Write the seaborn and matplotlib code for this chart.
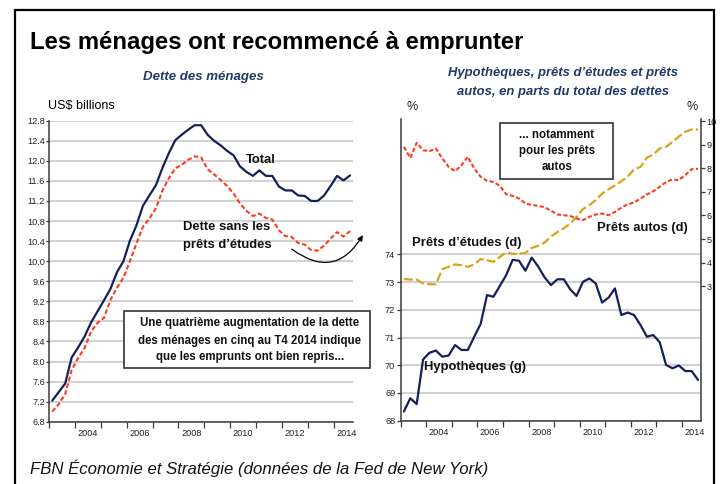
import matplotlib
matplotlib.use("Agg")
import matplotlib.pyplot as plt
import seaborn as sns
import pandas as pd
import numpy as np
from matplotlib.patches import Rectangle
from matplotlib.lines import Line2D

# ---------------- data (quarterly, 2003 T1 onward) ----------------
total = [7.22, 7.39, 7.56, 8.08, 8.28, 8.50, 8.78, 9.00, 9.22, 9.45,
         9.78, 10.00, 10.41, 10.71, 11.10, 11.31, 11.51, 11.85, 12.15, 12.41,
         12.52, 12.62, 12.71, 12.71, 12.52, 12.40, 12.31, 12.20, 12.11, 11.89,
         11.78, 11.70, 11.81, 11.70, 11.70, 11.49, 11.41, 11.41, 11.31, 11.30,
         11.20, 11.20, 11.31, 11.50, 11.70, 11.61, 11.71]
sans_etudes = [7.00, 7.15, 7.35, 7.83, 8.07, 8.27, 8.60, 8.77, 8.87, 9.23,
               9.47, 9.67, 10.00, 10.35, 10.68, 10.85, 11.05, 11.40, 11.65, 11.85,
               11.92, 12.02, 12.09, 12.07, 11.83, 11.73, 11.62, 11.50, 11.35, 11.15,
               11.00, 10.90, 10.95, 10.86, 10.83, 10.62, 10.50, 10.48, 10.36, 10.33,
               10.22, 10.21, 10.31, 10.45, 10.58, 10.49, 10.60]
hypotheques = [68.33, 68.81, 68.60, 70.21, 70.45, 70.53, 70.31, 70.35, 70.73, 70.55,
               70.55, 71.03, 71.49, 72.53, 72.47, 72.86, 73.25, 73.80, 73.77, 73.41,
               73.88, 73.56, 73.17, 72.89, 73.10, 73.10, 72.74, 72.50, 73.01, 73.13,
               72.95, 72.26, 72.44, 72.77, 71.81, 71.90, 71.81, 71.45, 71.03, 71.09,
               70.83, 70.01, 69.89, 69.99, 69.79, 69.79, 69.47]
etudes = [3.30, 3.28, 3.28, 3.11, 3.08, 3.08, 3.72, 3.82, 3.92, 3.89,
          3.82, 3.92, 4.15, 4.10, 4.03, 4.24, 4.43, 4.37, 4.37, 4.41,
          4.62, 4.71, 4.85, 5.10, 5.30, 5.45, 5.66, 5.94, 6.27, 6.44,
          6.65, 6.93, 7.11, 7.28, 7.45, 7.64, 7.96, 8.06, 8.45, 8.59,
          8.84, 8.91, 9.12, 9.35, 9.55, 9.65, 9.65]
autos = [8.91, 8.44, 9.08, 8.77, 8.73, 8.84, 8.42, 8.06, 7.88, 8.13,
         8.49, 7.99, 7.64, 7.47, 7.42, 7.26, 6.90, 6.83, 6.72, 6.51,
         6.44, 6.41, 6.35, 6.20, 6.04, 6.01, 5.98, 5.87, 5.80, 5.94,
         6.04, 6.08, 6.01, 6.15, 6.33, 6.47, 6.55, 6.72, 6.89, 7.03,
         7.21, 7.42, 7.53, 7.50, 7.71, 7.96, 7.98]

left_yticks = [6.8, 7.2, 7.6, 8.0, 8.4, 8.8, 9.2, 9.6, 10.0, 10.4, 10.8,
               11.2, 11.6, 12.0, 12.4, 12.8]
mort_ticks = [68, 69, 70, 71, 72, 73, 74]
share_ticks = [3, 4, 5, 6, 7, 8, 9, 10]
year_labels = ["2004", "2006", "2008", "2010", "2012", "2014"]

# ---------------- style ----------------
sns.set_theme(style="white")
plt.rcParams['font.family'] = ['Liberation Sans', 'DejaVu Sans']
NARROW = ['Liberation Sans Narrow', 'Liberation Sans', 'DejaVu Sans']
REG = ['Liberation Sans', 'DejaVu Sans']

NAVY = '#15205A'
RED = '#FF3A1E'
GOLD = '#D8A417'
SUB = '#1F3A66'
GRID = '#D2D2D2'
SPINE = '#3A3A3A'
TICKC = '#222222'
TICKFS = 6.6

W, H = 726, 484
fig = plt.figure(figsize=(7.26, 4.84), dpi=100)
fig.patch.set_facecolor('white')


def fy(py):
    return 1 - py / H


def fx(px):
    return px / W


n = len(total)
xq = 2003.125 + 0.25 * np.arange(n)
df_left = pd.DataFrame({'x': xq, 'total': total, 'sans': sans_etudes})
df_right = pd.DataFrame({'x': xq, 'hyp': hypotheques, 'etu': etudes, 'auto': autos})


def style_xaxis(ax):
    ax.set_xlim(2003, 2014.74)
    ax.set_xticks(list(range(2003, 2015)))
    ax.set_xticklabels([])
    ax.set_xticks([int(y) + 0.5 for y in year_labels], minor=True)
    ax.set_xticklabels(year_labels, minor=True, family=NARROW, fontsize=TICKFS, color=TICKC)
    ax.tick_params(axis='x', which='major', length=4, width=0.9, direction='out',
                   color=SPINE, bottom=True)
    ax.tick_params(axis='x', which='minor', length=0, pad=5, bottom=True)


# ---------------- left chart ----------------
ax1 = fig.add_axes([fx(49), fy(421.7), fx(304), 301 / H])
sns.lineplot(data=df_left, x='x', y='total', ax=ax1, color=NAVY, lw=1.6)
sns.lineplot(data=df_left, x='x', y='sans', ax=ax1, color=RED, lw=1.5,
             linestyle=(0, (2.2, 1.2)))
ax1.set_ylim(6.8, 12.8)
ax1.set_yticks(left_yticks)
ax1.set_yticklabels([f"{v:.1f}" for v in left_yticks], family=NARROW, fontsize=TICKFS,
                    color=TICKC)
ax1.tick_params(axis='y', length=2, width=0.9, pad=1, color=SPINE, left=True)
style_xaxis(ax1)
ax1.yaxis.grid(True, color=GRID, lw=1.5)
ax1.xaxis.grid(False)
ax1.set_axisbelow(True)
ax1.set_xlabel('')
ax1.set_ylabel('')
for s in ['top', 'right']:
    ax1.spines[s].set_visible(False)
for s in ['left', 'bottom']:
    ax1.spines[s].set_color(SPINE)
    ax1.spines[s].set_linewidth(1.1)

ax1.annotate("", xy=(2015.12, 10.52), xytext=(2012.38, 10.24),
             arrowprops=dict(arrowstyle='-|>', color='black', lw=0.9,
                             connectionstyle='arc3,rad=0.55', mutation_scale=8,
                             shrinkA=0, shrinkB=0),
             annotation_clip=False)

# ---------------- right chart ----------------
ax2 = fig.add_axes([fx(400.7), fy(420.7), fx(300.3), 301.4 / H])
sns.lineplot(data=df_right, x='x', y='hyp', ax=ax2, color=NAVY, lw=1.6)
ax2.set_ylim(68, 78.87)
ax2.set_yticks(mort_ticks)
ax2.set_yticklabels([str(v) for v in mort_ticks], family=NARROW, fontsize=TICKFS, color=TICKC)
ax2.tick_params(axis='y', length=3, width=0.9, pad=1, color=SPINE, left=True)
style_xaxis(ax2)
ax2.yaxis.grid(True, color=GRID, lw=1.5)
ax2.xaxis.grid(False)
ax2.set_axisbelow(True)
ax2.set_xlabel('')
ax2.set_ylabel('')
for s in ['top', 'right']:
    ax2.spines[s].set_visible(False)
for s in ['left', 'bottom']:
    ax2.spines[s].set_color(SPINE)
    ax2.spines[s].set_linewidth(1.1)

ax3 = ax2.twinx()
sns.lineplot(data=df_right, x='x', y='etu', ax=ax3, color=GOLD, lw=1.6,
             linestyle=(0, (4, 1.5)))
sns.lineplot(data=df_right, x='x', y='auto', ax=ax3, color=RED, lw=1.5,
             linestyle=(0, (2.0, 1.1)))
ax3.set_ylim(-2.71, 10.08)
ax3.set_yticks(share_ticks)
ax3.set_yticklabels([str(v) for v in share_ticks], family=NARROW, fontsize=TICKFS, color=TICKC)
ax3.tick_params(axis='y', length=3, width=0.9, pad=1, color=SPINE, right=True)
ax3.grid(False)
ax3.set_xlabel('')
ax3.set_ylabel('')
for s in ['top', 'left', 'bottom']:
    ax3.spines[s].set_visible(False)
ax3.spines['right'].set_color(SPINE)
ax3.spines['right'].set_linewidth(1.1)
ax3.set_xlim(2003, 2014.74)

# ---------------- texts ----------------
fig.text(fx(30), fy(42), "Les ménages ont recommencé à emprunter", family=REG,
         fontsize=17.2, fontweight='bold', ha='left', va='center', color='black')
fig.text(fx(203), fy(77), "Dette des ménages", family=NARROW, fontsize=9.5,
         fontweight='bold', style='italic', ha='center', va='center', color=SUB)
fig.text(fx(563), fy(73), "Hypothèques, prêts d’études et prêts", family=NARROW,
         fontsize=9.4, fontweight='bold', style='italic', ha='center', va='center', color=SUB)
fig.text(fx(563), fy(92), "autos, en parts du total des dettes", family=NARROW,
         fontsize=9.4, fontweight='bold', style='italic', ha='center', va='center', color=SUB)
fig.text(fx(48), fy(106), "US$ billions", family=REG, fontsize=9, ha='left',
         va='center', color='black')
fig.text(fx(412), fy(107), "%", family=REG, fontsize=9, ha='center', va='center')
fig.text(fx(692), fy(107), "%", family=REG, fontsize=9, ha='center', va='center')

lab = dict(family=NARROW, fontsize=9.4, fontweight='bold', va='center', color='#111111')
fig.text(fx(246), fy(160), "Total", ha='left', **lab)
fig.text(fx(183), fy(227), "Dette sans les", ha='left', **lab)
fig.text(fx(183), fy(245), "prêts d’études", ha='left', **lab)
fig.text(fx(412), fy(243), "Prêts d’études (d)", ha='left', **lab)
fig.text(fx(597), fy(228), "Prêts autos (d)", ha='left', **lab)
fig.text(fx(424), fy(367), "Hypothèques (g)", ha='left', **lab)

# boxes
fig.add_artist(Rectangle((fx(124), fy(368)), fx(370 - 124), (368 - 311) / H,
                         transform=fig.transFigure, facecolor='white',
                         edgecolor='#333333', lw=1.2, zorder=5))
box = dict(family=NARROW, fontsize=8.3, fontweight='bold', ha='center', va='center',
           color='#111111', zorder=6)
fig.text(fx(250), fy(323), "Une quatrième augmentation de la dette", **box)
fig.text(fx(250), fy(341), "des ménages en cinq au T4 2014 indique", **box)
fig.text(fx(250), fy(357), "que les emprunts ont bien repris...", **box)

fig.add_artist(Rectangle((fx(500), fy(179)), fx(613 - 500), (179 - 123) / H,
                         transform=fig.transFigure, facecolor='white',
                         edgecolor='#333333', lw=1.2, zorder=5))
fig.text(fx(557), fy(135), "... notamment", **box)
fig.text(fx(557), fy(151), "pour les prêts", **box)
fig.text(fx(557), fy(167), "autos", **box)

fig.text(fx(30), fy(468), "FBN Économie et Stratégie (données de la Fed de New York)",
         family=REG, fontsize=12.1, style='italic', ha='left', va='center', color='#111111')

# frame
fw = 1.6
fig.add_artist(Line2D([fx(15), fx(15)], [0, fy(10)], transform=fig.transFigure,
                      color='black', lw=fw))
fig.add_artist(Line2D([fx(15), fx(713.5)], [fy(10), fy(10)], transform=fig.transFigure,
                      color='black', lw=fw))
fig.add_artist(Line2D([fx(713.5), fx(713.5)], [0, fy(10)], transform=fig.transFigure,
                      color='black', lw=fw))

fig.savefig("out.png", dpi=100, facecolor='white')
